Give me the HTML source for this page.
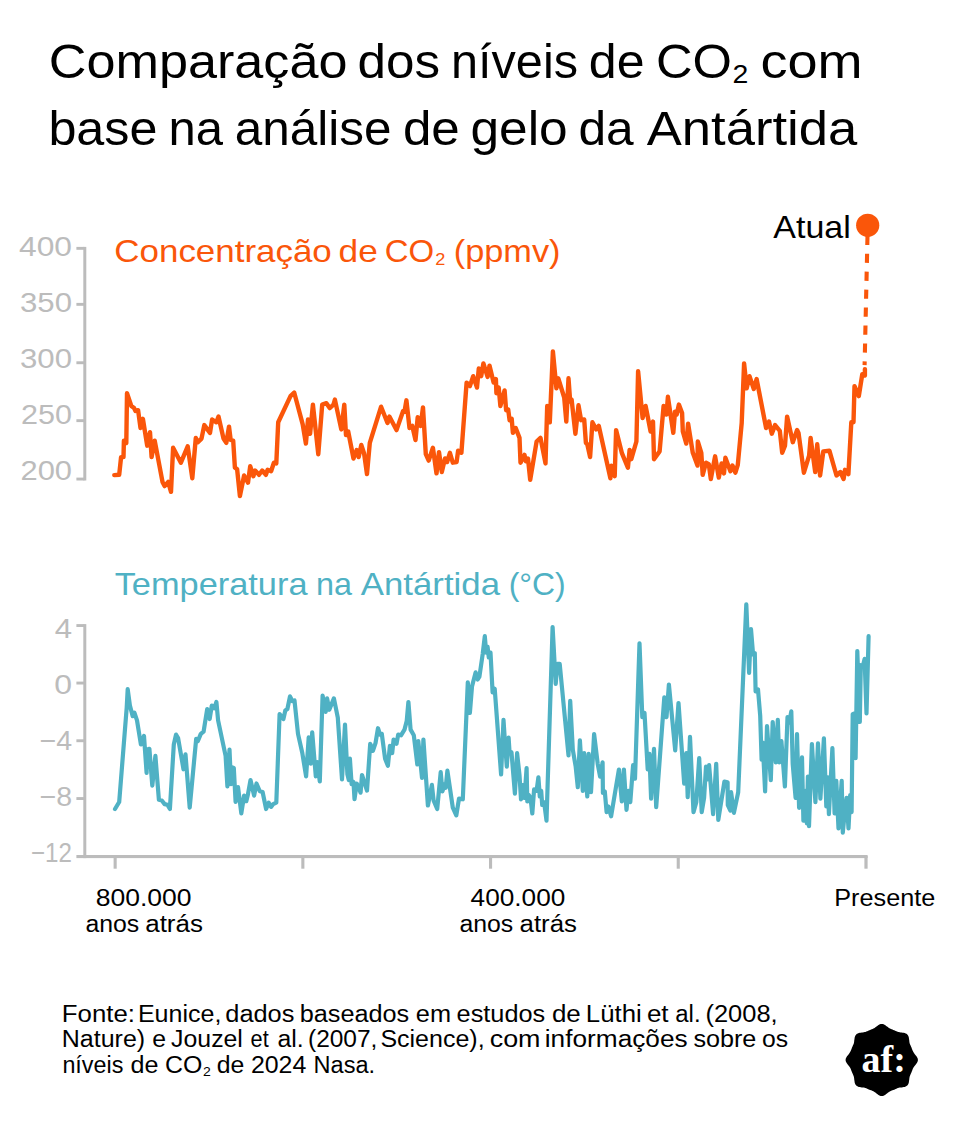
<!DOCTYPE html>
<html lang="pt">
<head>
<meta charset="utf-8">
<title>Comparação dos níveis de CO2 com base na análise de gelo da Antártida</title>
<style>
  html, body { margin: 0; padding: 0; background: #ffffff; }
  body { width: 956px; height: 1128px; overflow: hidden; font-family: "Liberation Sans", sans-serif; }
  svg { display: block; }
  svg text { font-family: "Liberation Sans", sans-serif; fill: #000; }
  .ttl { font-size: 48px; }
  .sub { font-size: 32px; }
  svg text.ylab { font-size: 28px; fill: #bcbcbc; }
  .xlab { font-size: 23px; }
  .foot { font-size: 23px; }
  svg text.or { fill: #fa560a; }
  svg text.te { fill: #4fb1c4; }
</style>
</head>
<body>
<svg width="956" height="1128" viewBox="0 0 956 1128">
  <rect x="0" y="0" width="956" height="1128" fill="#ffffff"/>

  <!-- TITLE -->
  <g id="title">
    <text class="ttl" x="48.8" y="77.8" lengthAdjust="spacingAndGlyphs" textLength="298.6">Comparação</text>
    <text class="ttl" x="357.5" y="77.8" lengthAdjust="spacingAndGlyphs" textLength="82.5">dos</text>
    <text class="ttl" x="451.0" y="77.8" lengthAdjust="spacingAndGlyphs" textLength="127.0">níveis</text>
    <text class="ttl" x="588.8" y="77.8" lengthAdjust="spacingAndGlyphs" textLength="55.7">de</text>
    <text class="ttl" x="655.9" y="77.8" lengthAdjust="spacingAndGlyphs" textLength="76.0">CO</text>
    <text class="ttl" x="732.5" y="82.7" lengthAdjust="spacingAndGlyphs" textLength="15.8" style="font-size:26px">2</text>
    <text class="ttl" x="760.4" y="77.8" lengthAdjust="spacingAndGlyphs" textLength="102.1">com</text>
    <text class="ttl" x="48.4" y="145.2" lengthAdjust="spacingAndGlyphs" textLength="109.1">base</text>
    <text class="ttl" x="168.6" y="145.2" lengthAdjust="spacingAndGlyphs" textLength="54.5">na</text>
    <text class="ttl" x="234.8" y="145.2" lengthAdjust="spacingAndGlyphs" textLength="156.7">análise</text>
    <text class="ttl" x="402.9" y="145.2" lengthAdjust="spacingAndGlyphs" textLength="56.9">de</text>
    <text class="ttl" x="470.5" y="145.2" lengthAdjust="spacingAndGlyphs" textLength="97.2">gelo</text>
    <text class="ttl" x="578.4" y="145.2" lengthAdjust="spacingAndGlyphs" textLength="55.2">da</text>
    <text class="ttl" x="646.8" y="145.2" lengthAdjust="spacingAndGlyphs" textLength="210.4">Antártida</text>
  </g>

  <!-- TOP CHART: axis -->
  <g id="axis1" fill="#bcbcbc">
    <rect x="83.3" y="246.9" width="3" height="233.6"/>
    <rect x="76.4" y="246.9" width="8" height="2.9"/>
    <rect x="76.4" y="302.9" width="8" height="2.9"/>
    <rect x="76.4" y="361.3" width="8" height="2.9"/>
    <rect x="76.4" y="419.2" width="8" height="2.9"/>
    <rect x="76.4" y="477.6" width="8" height="2.9"/>
  </g>
  <g id="ylab1">
    <text class="ylab" x="19" y="255.5" lengthAdjust="spacingAndGlyphs" textLength="53">400</text>
    <text class="ylab" x="20" y="311.5" lengthAdjust="spacingAndGlyphs" textLength="52">350</text>
    <text class="ylab" x="20" y="367.5" lengthAdjust="spacingAndGlyphs" textLength="52">300</text>
    <text class="ylab" x="21" y="423.5" lengthAdjust="spacingAndGlyphs" textLength="51">250</text>
    <text class="ylab" x="20.5" y="479.5" lengthAdjust="spacingAndGlyphs" textLength="51.5">200</text>
  </g>
  <g id="sub1">
    <text class="sub or" x="114.3" y="261.8" lengthAdjust="spacingAndGlyphs" textLength="217.5">Concentração</text>
    <text class="sub or" x="338.6" y="261.8" lengthAdjust="spacingAndGlyphs" textLength="39.2">de</text>
    <text class="sub or" x="384.8" y="261.8" lengthAdjust="spacingAndGlyphs" textLength="49.4">CO</text>
    <text class="sub or" x="435.3" y="265" lengthAdjust="spacingAndGlyphs" textLength="10.1" style="font-size:17.3px">2</text>
    <text class="sub or" x="453.8" y="261.8" lengthAdjust="spacingAndGlyphs" textLength="106.7">(ppmv)</text>
    <text class="sub" x="773.3" y="237.6" lengthAdjust="spacingAndGlyphs" textLength="77.5">Atual</text>
  </g>

  <!-- CO2 LINE -->
  <g id="co2" fill="none" stroke="#fa560a" stroke-linejoin="round" stroke-linecap="round">
    <polyline id="co2line" stroke-width="4.4" points="114.3,475.1 119.2,474.8 121.1,457.1 123.5,457.1 123.9,440.7 126.3,442.9 127,393.2 131.3,406 134.1,408.1 135.5,411 138.1,410.2 140.5,428 142.9,418.8 147.2,445.7 150,432.2 151.6,457.1 154.7,440.7 162.5,481.9 164.6,486.1 168.2,481.9 171,491.8 173.1,447.8 180.9,462.7 187.7,446.4 192.3,478.3 195.8,437.9 197.9,442.2 201.5,438.6 204.3,425.1 210,432.9 212.1,419.5 216.4,422.3 218.5,416.6 223.5,438.6 226.3,442.9 229,426.6 230.7,440 233.2,440.7 234.9,467.7 237.1,469.1 239.9,496.1 244.1,475.5 248,482.6 250.2,466.3 253.4,476.2 255.1,470.5 259,474.8 262.2,470.5 265.9,474.8 267.6,469.8 271.1,471.2 273.9,462.7 276.3,463.4 278.2,422.3 290.5,396.1 294.2,392.5 302.7,424.4 305.9,443.6 308,419.5 310.1,433.7 312.9,404.6 318.3,454.2 322.2,404.6 326.4,403.2 329.7,408.1 333.5,404.6 334.9,399.6 341.3,429.4 344.3,404.6 346,435.1 348.2,431.5 353.5,458.5 356.7,450 358.7,457.1 361.3,445 364.1,453.5 367,474.1 369.8,442.9 381.1,406.7 387.5,423 389.4,416.6 396.5,430.1 403.1,411 404.5,411.7 406.4,400.3 409.5,428 412.3,425.9 415.5,440 417.7,417.3 420.6,425.9 423,407.4 425.8,454.2 428.7,460.6 432.9,447.8 436.5,473.4 439,452.1 441.8,472 445,458.5 447.1,462 449.9,452.8 452.8,462.7 456.6,462 458.1,450.7 461.4,452.8 466.6,382.6 469.9,386.1 473.2,376.2 477,387.6 478.8,368.4 481.2,376.2 483.4,363.4 487.6,376.9 489.5,365.6 493.6,382.6 495.9,379 496.4,393.2 498.7,387.6 500.4,406 504.6,390.4 506.1,410.2 508.2,409.5 509.6,420.2 511.7,418.8 512.9,432.9 515.7,428 519.5,437.9 520.5,462.7 524.5,454.9 525.9,461.3 528,458.5 530.2,479.8 536.6,441.5 540.5,437.9 545.5,463.4 547.2,406 549.8,422.3 552.9,351.4 556.4,388.3 558.3,378.3 564.2,397.5 566.3,421.6 568.5,378.3 570.2,401.7 571.6,399.6 575.4,433.7 578.5,405.3 581.1,420.2 584.2,419.5 585.9,442.9 587.3,444.3 590.1,457.1 592.4,422.3 596.2,429.4 598.8,425.9 610.4,478.3 611.4,465.6 614.7,476.2 616.1,430.1 621.8,452.8 627.9,467.7 629.6,450 631.3,459.2 636.4,441.5 638.1,371.2 642.6,418 645.6,406 647.3,414.5 650.6,431.5 653,421.6 654,459.2 659.6,451.4 663.6,406 666.5,414.5 667.9,396.8 673.3,432.9 675,411.7 676.7,414.5 678.9,404.6 682.1,413.1 682.8,431.5 686.3,443.6 688.1,423.7 692.8,452.8 697.5,465.6 697.8,441.5 701.3,452.8 702.7,474.8 706,462.7 708.8,464.1 710.8,479 715.1,456.3 718.8,477.6 721.6,463.4 724,473.4 725.4,457.8 730.4,471.2 732.5,465.6 735.4,472.7 737.8,464.9 741.7,423 744.1,363.4 746.7,388.3 749.5,376.2 753.8,389 756.6,379 766.1,428 769,421.6 771.8,433.7 775.1,425.1 779.8,430.8 782.2,452.8 785,445.7 787.1,416.6 792.8,442.2 797.1,430.1 798.5,432.9 803.9,472.7 809.1,455.6 810.6,437.9 815.2,472 817.2,444.3 820.1,475.5 823.3,451.4 829.4,450.7 836.5,475.5 840.4,472 843.6,479 845,469.8 848.4,474.1 851.3,422.3 853.5,422.3 854.5,386.1 858.8,396.1 862.3,374.1 864.9,375.5 864.9,369.1"/>
    <line x1="867.5" y1="235.75" x2="864.6" y2="365.1" stroke-width="4.1" stroke-dasharray="9.2 8.75" stroke-linecap="butt"/>
    <circle cx="867.7" cy="225.3" r="11.6" fill="#fa560a" stroke="none"/>
  </g>

  <!-- BOTTOM CHART: axis -->
  <g id="axis2" fill="#bcbcbc">
    <rect x="83.3" y="624.1" width="3" height="234"/>
    <rect x="76.4" y="855" width="791.2" height="3.1"/>
    <rect x="76.4" y="624.1" width="8" height="2.9"/>
    <rect x="76.4" y="681.6" width="8" height="2.9"/>
    <rect x="76.4" y="739.3" width="8" height="2.9"/>
    <rect x="76.4" y="797.1" width="8" height="2.9"/>
    <rect x="113.6" y="856" width="3.1" height="12.7"/>
    <rect x="301.3" y="856" width="3.1" height="12.7"/>
    <rect x="489" y="856" width="3.1" height="12.7"/>
    <rect x="676.7" y="856" width="3.1" height="12.7"/>
    <rect x="864.4" y="856" width="3.2" height="12.7"/>
  </g>
  <g id="ylab2">
    <text class="ylab" x="54.8" y="637.9" lengthAdjust="spacingAndGlyphs" textLength="17.3">4</text>
    <text class="ylab" x="54.2" y="693.8" lengthAdjust="spacingAndGlyphs" textLength="17.8">0</text>
    <text class="ylab" x="39.5" y="750.2" lengthAdjust="spacingAndGlyphs" textLength="32.6">−4</text>
    <text class="ylab" x="39.5" y="805.8" lengthAdjust="spacingAndGlyphs" textLength="32.6">−8</text>
    <text class="ylab" x="31" y="862.3" lengthAdjust="spacingAndGlyphs" textLength="41">−12</text>
  </g>
  <g id="sub2">
    <text class="sub te" x="114.7" y="595.4" lengthAdjust="spacingAndGlyphs" textLength="192.8">Temperatura</text>
    <text class="sub te" x="315.9" y="595.4" lengthAdjust="spacingAndGlyphs" textLength="36.0">na</text>
    <text class="sub te" x="360.8" y="595.4" lengthAdjust="spacingAndGlyphs" textLength="139.2">Antártida</text>
    <text class="sub te" x="508.7" y="595.4" lengthAdjust="spacingAndGlyphs" textLength="57.0">(°C)</text>
  </g>

  <!-- TEMPERATURE LINE -->
  <g id="temp" fill="none" stroke="#4fb1c4" stroke-linejoin="round" stroke-linecap="round">
    <polyline id="templine" stroke-width="4.2" points="115,809 119.2,802 126.7,707.6 127.7,689.2 129.9,705.5 132.7,716.1 134.4,712.6 137,720.4 140.9,744.5 144,736 146.6,772.9 147.2,749.5 149.4,748.8 152.3,785.6 155.4,755.9 158.9,799.8 161.8,800.5 164.6,804.1 167.4,804.8 169.9,809 173.8,744.5 176,734.6 178.1,738.1 183.5,769.3 185.5,754.4 189.7,807.6 196.2,738.8 197.9,741 200.8,733.9 203.6,731.7 207.2,709 209.7,719 211.8,705.5 214.3,708.3 216.4,702 218.1,720.4 225.6,755.9 227.4,786.3 229.5,749.5 231,784.2 231.8,767.2 233.8,767.9 235.6,802 238,787.1 241.3,813.3 244.1,795.6 246.3,801.2 247.7,795.6 250.5,780 254.1,795.6 256.5,783.5 259.8,791.3 262.6,792 266.1,809 268.7,802.7 271.1,806.9 273.2,804.1 276.3,802.7 279.6,714 283.4,719 285.3,710.5 287.4,709 290,696.3 292.4,701.2 294.5,700.5 298,733.9 302.3,753 306.1,776.4 308.7,737.4 310.8,763.7 312.2,732.4 315.8,776.4 317.2,762.2 319.8,781.4 322.6,695.6 325.7,711.9 327.1,698.4 329.3,709.8 333.9,698.4 337.8,717.6 342,779.3 345,724.6 347.4,774.3 348.8,780 349.9,758.7 351.6,784.2 353.5,782.1 354.5,799.1 356.7,783.5 358.4,787.1 360.6,792.7 362,775 367,790.6 370.2,743.8 372.9,750.9 375.5,743.1 378,728.2 380.1,734.6 381.8,733.9 385.1,758.7 387.9,765.8 389.9,745.9 392.2,753 393.6,739.5 396.5,743.8 398.2,734.6 401,735.3 404.5,729.6 406.7,721.1 408.4,702 410.6,729.6 413.8,735.3 417.3,764.4 418.3,741 422,777.8 423.4,739.5 427.9,805.5 431.9,784.9 433.6,800.5 437.2,809 440.7,772.2 442.4,791.3 444.7,784.2 445.7,787.8 447.4,770.7 452.8,807.6 456.3,815.4 459,798.6 462.8,799.3 467.8,682.3 469.9,712.8 472,686.6 475.6,672.4 477.7,679.5 479.4,676.7 482.7,654 484.8,636.2 486.2,652.6 487.6,646.9 488.8,657.5 490.5,652.6 492.6,692.3 494.7,688.7 501.1,774.5 503.5,719.9 504.9,741.1 506.8,766.7 508.6,737.6 509.6,753.2 511.5,752.5 514.9,793.6 517.1,753.2 519.5,775.2 521,799.3 522.8,785.1 524.5,797.9 526.6,768.1 527.3,801.4 528.8,795 530.5,797.9 532.3,813.5 534.1,789.4 536.6,790.8 538.4,777.3 539.8,796.5 541.2,790.8 542.2,805 544.1,802.1 546.5,820.6 552.6,627 555.7,683.8 557.4,663.9 559.7,663.9 568.5,755.4 570.2,700.8 572.8,749.6 575.7,766.7 577.8,787.2 579.9,740.4 581.6,768.1 582.8,790.8 584.2,753.2 587.3,796.5 588.7,753.9 591,792.2 594.1,734 597.7,763.8 600.1,776.6 602.6,762.4 602.9,792.9 604.8,791.5 606.6,812.1 608.3,806.4 611.1,816.3 618.9,769.5 621.8,801.4 623.9,769.5 626.5,809.9 628.4,790.8 630.3,802.1 633.1,765.2 635,778.7 639.5,643.4 642.3,717.2 644.5,712.9 647.7,769.5 649.4,753.9 651.1,798.6 654,748.9 656.2,807.1 664.3,697.3 666.5,717.2 668.9,684.5 675.2,750.4 678.5,703 684.2,783.7 686.3,753.2 687.7,797.2 690,736.9 693.5,812.1 696.3,802.1 699.2,758.2 701.7,812.1 704.1,797.9 706,766.7 707.4,779.4 709.1,765.2 713.1,814.2 716.2,763.8 718.3,819.9 724.4,781.6 727.6,782.3 727.8,805 730.4,810.6 731.1,792.2 733.9,812.8 738.2,792.2 746.3,604.3 749.1,673 751,629.1 753.1,654.6 754.8,653.2 755.6,691.5 758,689.4 760.2,715.6 761.6,759.6 762.7,742.6 765.1,791.5 767,726.2 770.8,780.1 772.7,722 775.8,762.4 777.8,719.9 779.3,762.4 781.4,741.1 784.9,786.5 787.5,717 789.2,722.7 791.3,711.3 792.7,763.8 795.6,797.9 797,734 799.1,807.8 802,757.4 803.4,820.6 805.5,790.8 806.9,823.4 807.9,776.6 809,826.2 811.9,744 815.4,802.1 818,743.3 820.4,798.6 823.9,738.3 826.3,806.4 827.8,777.3 828.9,814.2 832.4,748.2 834.6,813.5 836.3,780.9 838.5,828.4 841.7,780.9 842.8,832.6 845.2,807.8 846.6,797.9 848.5,828.4 850.2,795 851.6,812.1 852.7,714.2 854.4,713.5 855.6,758.2 857.3,651.1 859.8,722 860.8,665.2 862.7,666.7 864.6,658.9 866.5,713.5 868.6,636.2"/>
  </g>

  <!-- X LABELS -->
  <g id="xlabs">
    <text class="xlab" x="95.7" y="906.0" lengthAdjust="spacingAndGlyphs" textLength="95.8">800.000</text>
    <text class="xlab" x="85.4" y="932.3" lengthAdjust="spacingAndGlyphs" textLength="53.8">anos</text>
    <text class="xlab" x="145.2" y="932.3" lengthAdjust="spacingAndGlyphs" textLength="57.8">atrás</text>
    <text class="xlab" x="470.6" y="906.0" lengthAdjust="spacingAndGlyphs" textLength="94.7">400.000</text>
    <text class="xlab" x="459.4" y="932.3" lengthAdjust="spacingAndGlyphs" textLength="53.8">anos</text>
    <text class="xlab" x="519.6" y="932.3" lengthAdjust="spacingAndGlyphs" textLength="57.4">atrás</text>
    <text class="xlab" x="834.3" y="906.0" lengthAdjust="spacingAndGlyphs" textLength="100.9">Presente</text>
  </g>

  <!-- FOOTER -->
  <g id="footer">
    <text class="foot" x="61.8" y="1022" lengthAdjust="spacingAndGlyphs" textLength="73.1">Fonte:</text>
    <text class="foot" x="137.9" y="1022" lengthAdjust="spacingAndGlyphs" textLength="83.5">Eunice,</text>
    <text class="foot" x="225.3" y="1022" lengthAdjust="spacingAndGlyphs" textLength="69.1">dados</text>
    <text class="foot" x="299.7" y="1022" lengthAdjust="spacingAndGlyphs" textLength="109.5">baseados</text>
    <text class="foot" x="415.8" y="1022" lengthAdjust="spacingAndGlyphs" textLength="35.2">em</text>
    <text class="foot" x="456.6" y="1022" lengthAdjust="spacingAndGlyphs" textLength="88.6">estudos</text>
    <text class="foot" x="551.9" y="1022" lengthAdjust="spacingAndGlyphs" textLength="28.9">de</text>
    <text class="foot" x="585.8" y="1022" lengthAdjust="spacingAndGlyphs" textLength="55.9">Lüthi</text>
    <text class="foot" x="646.9" y="1022" lengthAdjust="spacingAndGlyphs" textLength="21.7">et</text>
    <text class="foot" x="675.3" y="1022" lengthAdjust="spacingAndGlyphs" textLength="25.3">al.</text>
    <text class="foot" x="705.5" y="1022" lengthAdjust="spacingAndGlyphs" textLength="72.1">(2008,</text>
    <text class="foot" x="61.8" y="1047.3" lengthAdjust="spacingAndGlyphs" textLength="83.3">Nature)</text>
    <text class="foot" x="152.2" y="1047.3" lengthAdjust="spacingAndGlyphs" textLength="13.8">e</text>
    <text class="foot" x="171.1" y="1047.3" lengthAdjust="spacingAndGlyphs" textLength="71.8">Jouzel</text>
    <text class="foot" x="250.6" y="1047.3" lengthAdjust="spacingAndGlyphs" textLength="18.1">et</text>
    <text class="foot" x="277.5" y="1047.3" lengthAdjust="spacingAndGlyphs" textLength="26.2">al.</text>
    <text class="foot" x="308.0" y="1047.3" lengthAdjust="spacingAndGlyphs" textLength="69.4">(2007,</text>
    <text class="foot" x="380.4" y="1047.3" lengthAdjust="spacingAndGlyphs" textLength="104.2">Science),</text>
    <text class="foot" x="489.7" y="1047.3" lengthAdjust="spacingAndGlyphs" textLength="50.8">com</text>
    <text class="foot" x="544.8" y="1047.3" lengthAdjust="spacingAndGlyphs" textLength="142.8">informações</text>
    <text class="foot" x="693.4" y="1047.3" lengthAdjust="spacingAndGlyphs" textLength="63.0">sobre</text>
    <text class="foot" x="761.9" y="1047.3" lengthAdjust="spacingAndGlyphs" textLength="26.1">os</text>
    <text class="foot" x="62.4" y="1073" lengthAdjust="spacingAndGlyphs" textLength="61.0">níveis</text>
    <text class="foot" x="130.5" y="1073" lengthAdjust="spacingAndGlyphs" textLength="28.0">de</text>
    <text class="foot" x="165.1" y="1073" lengthAdjust="spacingAndGlyphs" textLength="37.3">CO</text>
    <text class="foot" x="203.0" y="1076" lengthAdjust="spacingAndGlyphs" textLength="7.8" style="font-size:12.2px">2</text>
    <text class="foot" x="216.7" y="1073" lengthAdjust="spacingAndGlyphs" textLength="27.6">de</text>
    <text class="foot" x="250.9" y="1073" lengthAdjust="spacingAndGlyphs" textLength="55.4">2024</text>
    <text class="foot" x="313.6" y="1073" lengthAdjust="spacingAndGlyphs" textLength="61.5">Nasa.</text>
  </g>

  <!-- LOGO -->
  <g id="logo">
    <path fill="#000" d="M917.9,1060.0 L917.8,1060.9 L917.5,1061.8 L917.0,1062.7 L916.5,1063.6 L915.8,1064.4 L915.2,1065.2 L914.6,1066.0 L914.0,1066.8 L913.5,1067.6 L913.1,1068.3 L912.7,1069.1 L912.4,1069.9 L912.1,1070.7 L911.8,1071.5 L911.5,1072.3 L911.2,1073.0 L910.8,1073.8 L910.5,1074.6 L910.1,1075.4 L909.8,1076.2 L909.6,1077.0 L909.4,1077.9 L909.3,1078.9 L909.2,1079.9 L909.0,1080.9 L908.9,1081.9 L908.7,1082.9 L908.3,1083.9 L907.9,1084.7 L907.3,1085.5 L906.5,1086.1 L905.7,1086.5 L904.7,1086.9 L903.7,1087.1 L902.7,1087.2 L901.7,1087.4 L900.7,1087.5 L899.7,1087.6 L898.8,1087.8 L898.0,1088.0 L897.2,1088.3 L896.4,1088.7 L895.6,1089.0 L894.8,1089.4 L894.1,1089.7 L893.3,1090.0 L892.5,1090.3 L891.7,1090.6 L890.9,1090.9 L890.1,1091.3 L889.4,1091.7 L888.6,1092.2 L887.8,1092.8 L887.0,1093.4 L886.2,1094.0 L885.4,1094.7 L884.5,1095.2 L883.6,1095.7 L882.7,1096.0 L881.8,1096.0 L880.8,1096.0 L879.9,1095.7 L879.0,1095.2 L878.1,1094.7 L877.3,1094.0 L876.5,1093.4 L875.7,1092.8 L874.9,1092.2 L874.1,1091.7 L873.4,1091.3 L872.6,1090.9 L871.8,1090.6 L871.0,1090.3 L870.2,1090.0 L869.4,1089.7 L868.7,1089.4 L867.9,1089.0 L867.1,1088.7 L866.3,1088.3 L865.5,1088.0 L864.7,1087.8 L863.8,1087.6 L862.8,1087.5 L861.8,1087.4 L860.8,1087.2 L859.8,1087.1 L858.8,1086.9 L857.8,1086.5 L857.0,1086.1 L856.2,1085.5 L855.6,1084.7 L855.2,1083.9 L854.8,1082.9 L854.6,1081.9 L854.5,1080.9 L854.3,1079.9 L854.2,1078.9 L854.1,1077.9 L853.9,1077.0 L853.7,1076.2 L853.4,1075.4 L853.0,1074.6 L852.7,1073.8 L852.3,1073.0 L852.0,1072.3 L851.7,1071.5 L851.4,1070.7 L851.1,1069.9 L850.8,1069.1 L850.4,1068.3 L850.0,1067.6 L849.5,1066.8 L848.9,1066.0 L848.3,1065.2 L847.7,1064.4 L847.0,1063.6 L846.5,1062.7 L846.0,1061.8 L845.7,1060.9 L845.6,1060.0 L845.7,1059.0 L846.0,1058.1 L846.5,1057.2 L847.0,1056.3 L847.7,1055.5 L848.3,1054.7 L848.9,1053.9 L849.5,1053.1 L850.0,1052.3 L850.4,1051.6 L850.8,1050.8 L851.1,1050.0 L851.4,1049.2 L851.7,1048.4 L852.0,1047.6 L852.3,1046.9 L852.7,1046.1 L853.0,1045.3 L853.4,1044.5 L853.7,1043.7 L853.9,1042.9 L854.1,1042.0 L854.2,1041.0 L854.3,1040.0 L854.5,1039.0 L854.6,1038.0 L854.8,1037.0 L855.2,1036.0 L855.6,1035.2 L856.2,1034.4 L857.0,1033.8 L857.8,1033.4 L858.8,1033.0 L859.8,1032.8 L860.8,1032.7 L861.8,1032.5 L862.8,1032.4 L863.8,1032.3 L864.7,1032.1 L865.5,1031.9 L866.3,1031.6 L867.1,1031.2 L867.9,1030.9 L868.7,1030.5 L869.4,1030.2 L870.2,1029.9 L871.0,1029.6 L871.8,1029.3 L872.6,1029.0 L873.4,1028.6 L874.1,1028.2 L874.9,1027.7 L875.7,1027.1 L876.5,1026.5 L877.3,1025.9 L878.1,1025.2 L879.0,1024.7 L879.9,1024.2 L880.8,1023.9 L881.8,1023.9 L882.7,1023.9 L883.6,1024.2 L884.5,1024.7 L885.4,1025.2 L886.2,1025.9 L887.0,1026.5 L887.8,1027.1 L888.6,1027.7 L889.4,1028.2 L890.1,1028.6 L890.9,1029.0 L891.7,1029.3 L892.5,1029.6 L893.3,1029.9 L894.1,1030.2 L894.8,1030.5 L895.6,1030.9 L896.4,1031.2 L897.2,1031.6 L898.0,1031.9 L898.8,1032.1 L899.7,1032.3 L900.7,1032.4 L901.7,1032.5 L902.7,1032.7 L903.7,1032.8 L904.7,1033.0 L905.7,1033.4 L906.5,1033.8 L907.3,1034.4 L907.9,1035.2 L908.3,1036.0 L908.7,1037.0 L908.9,1038.0 L909.0,1039.0 L909.2,1040.0 L909.3,1041.0 L909.4,1042.0 L909.6,1042.9 L909.8,1043.7 L910.1,1044.5 L910.5,1045.3 L910.8,1046.1 L911.2,1046.9 L911.5,1047.6 L911.8,1048.4 L912.1,1049.2 L912.4,1050.0 L912.7,1050.8 L913.1,1051.6 L913.5,1052.3 L914.0,1053.1 L914.6,1053.9 L915.2,1054.7 L915.8,1055.5 L916.5,1056.3 L917.0,1057.2 L917.5,1058.1 L917.8,1059.0 Z"/>
    <text x="861.6" y="1071.7" font-size="37" lengthAdjust="spacingAndGlyphs" textLength="44.2" style="font-family:'Liberation Serif',serif;font-weight:bold;fill:#fff">af:</text>
  </g>
</svg>
</body>
</html>
